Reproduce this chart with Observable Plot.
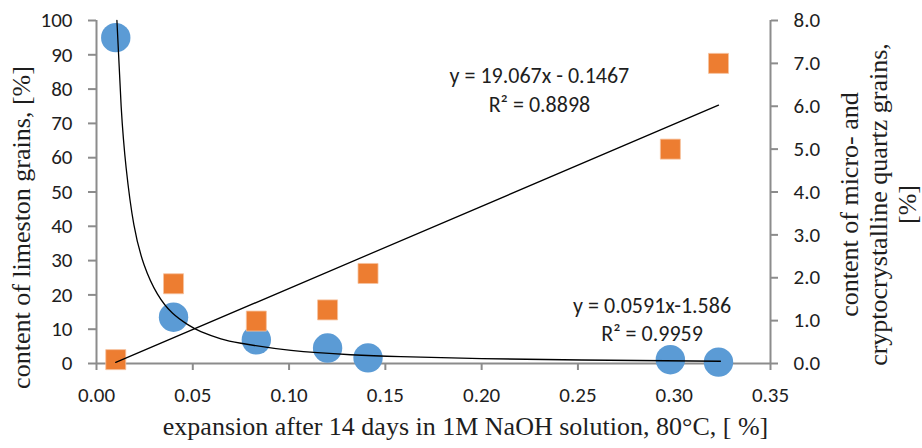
<!DOCTYPE html>
<html>
<head>
<meta charset="utf-8">
<script src="https://cdn.jsdelivr.net/npm/d3@7"></script>
<script src="https://cdn.jsdelivr.net/npm/@observablehq/plot@0.6"></script>
<style>
  html, body { margin: 0; padding: 0; background: #fff; }
  #chart { width: 922px; height: 448px; }
</style>
</head>
<body>
<div id="chart"></div>
<script>
// expansion values [%]
const expansion = [0.01, 0.04, 0.083, 0.12, 0.141, 0.298, 0.323];
// content of limestone grains [%] (left axis)
const limestone = [95, 13.5, 6.9, 4.5, 1.65, 1.1, 0.4];
// content of micro- and cryptocrystalline quartz grains [%] (right axis)
const quartz = [0.09, 1.86, 0.99, 1.25, 2.1, 5.0, 7.0];
// power trendline of limestone series
const trendX = [0.0106, 0.0128, 0.0154, 0.0194, 0.0247, 0.0316, 0.0394, 0.0472, 0.0542, 0.0646, 0.075, 0.101, 0.132, 0.158, 0.2, 0.252, 0.324];
const trendY = [100, 75, 57, 40.5, 28.8, 20.3, 14.7, 11.4, 9.3, 7.2, 5.9, 3.8, 2.55, 2.0, 1.42, 1.02, 0.66];
// axis ticks
const xTicks = [0, 0.05, 0.10, 0.15, 0.20, 0.25, 0.30, 0.35];
const leftTicks = [0, 10, 20, 30, 40, 50, 60, 70, 80, 90, 100];
const rightTicks = [0, 1, 2, 3, 4, 5, 6, 7, 8];
// texts
const xTitle = "expansion after 14 days in 1M NaOH solution, 80°C, [ %]";
const leftTitle = "content of limeston grains, [%]";
const rightTitle = "content of micro- and\ncryptocrystalline quartz grains,\n[%]";
const eqLinear = "y = 19.067x - 0.1467\nR² = 0.8898";
const eqPower = "y = 0.0591x-1.586\nR² = 0.9959";
// annotation anchors (data space: x, left-axis y)
const eqLinearPos = [0.23, 73.2];
const eqPowerPos = [0.2885, 6.7];

const rightMax = 8, leftMax = 100;
const k = leftMax / rightMax;

const rows = expansion.map((x, i) => ({x, lime: limestone[i], q: quartz[i]}));
const trend = trendX.map((x, i) => ({x, y: trendY[i]}));

const axisGray = "#8c8c8c";
const ink = "#1e1e1e";
const sans = "Calibri, Carlito, Lato, sans-serif";
const serif = "'Liberation Serif', 'Times New Roman', serif";
const tickFont = 21;
const eqFont = 22;

const chart = Plot.plot({
  width: 922,
  height: 448,
  marginLeft: 96,
  marginRight: 152,
  marginTop: 20,
  marginBottom: 85,
  x: {domain: [0, 0.35]},
  y: {domain: [0, leftMax]},
  style: {fontFamily: sans, fontSize: "21px", background: "white", color: ink},
  marks: [
    // axis lines
    Plot.ruleX([0], {stroke: axisGray, strokeWidth: 2}),
    Plot.ruleX([0.35], {stroke: axisGray, strokeWidth: 2}),
    Plot.ruleY([0], {stroke: axisGray, strokeWidth: 2}),
    // tick marks (labels drawn separately)
    Plot.axisY({ticks: leftTicks, tickFormat: () => "", tickSize: 8, stroke: axisGray, strokeWidth: 2, label: null}),
    Plot.axisY({anchor: "right", ticks: rightTicks.map(v => v * k), tickFormat: () => "", tickSize: 7,
      stroke: axisGray, strokeWidth: 2, label: null}),
    Plot.axisX({ticks: xTicks, tickFormat: () => "", tickSize: 7, stroke: axisGray, strokeWidth: 2, label: null}),
    // tick labels
    Plot.text(leftTicks, {frameAnchor: "left", y: d => d, text: d => String(d), textAnchor: "end", dx: -24,
      lineAnchor: "middle", fontSize: tickFont, fontFamily: sans, fill: ink}),
    Plot.text(rightTicks, {frameAnchor: "right", y: d => d * k, text: d => d.toFixed(1), textAnchor: "start", dx: 23,
      lineAnchor: "middle", fontSize: tickFont, fontFamily: sans, fill: ink}),
    Plot.text(xTicks, {frameAnchor: "bottom", x: d => d, text: d => d.toFixed(2), textAnchor: "middle", dy: 24,
      lineAnchor: "top", fontSize: tickFont, fontFamily: sans, fill: ink}),
    // data
    Plot.dot(rows, {x: "x", y: "lime", r: 14.7, fill: "#5B9BD5", stroke: "none"}),
    Plot.dot(rows, {x: "x", y: d => d.q * k, symbol: "square", r: 11.3, fill: "#ED7D31", stroke: "#f6c3a0", strokeWidth: 0.8}),
    // trendlines
    Plot.line(trend, {x: "x", y: "y", curve: "natural", stroke: "black", strokeWidth: 1.3}),
    Plot.linearRegressionY(rows, {x: "x", y: d => d.q * k, ci: 0, stroke: "black", strokeWidth: 1.3}),
    // equations
    Plot.text([eqLinear], {x: () => eqLinearPos[0], y: () => eqLinearPos[1], text: d => d, textAnchor: "middle",
      lineAnchor: "bottom", lineHeight: 1.32, fontSize: eqFont, fontFamily: sans, fill: ink}),
    Plot.text([eqPower], {x: () => eqPowerPos[0], y: () => eqPowerPos[1], text: d => d, textAnchor: "middle",
      lineAnchor: "bottom", lineHeight: 1.27, fontSize: eqFont, fontFamily: sans, fill: ink}),
    // axis titles
    Plot.text([xTitle], {frameAnchor: "bottom", text: d => d, textAnchor: "middle", dx: 32, dy: 71, lineAnchor: "bottom",
      fontSize: 26, fontFamily: serif, fill: ink}),
    Plot.text([leftTitle], {frameAnchor: "left", text: d => d, textAnchor: "middle", rotate: -90, dx: -67, dy: 35.5,
      lineAnchor: "bottom", fontSize: 26, fontFamily: serif, fill: ink}),
    Plot.text([rightTitle], {frameAnchor: "right", text: d => d, textAnchor: "middle", rotate: -90, dx: 145, dy: 12.5,
      lineAnchor: "bottom", lineHeight: 1.115, fontSize: 26, fontFamily: serif, fill: ink})
  ]
});
document.getElementById("chart").appendChild(chart);
</script>
</body>
</html>
